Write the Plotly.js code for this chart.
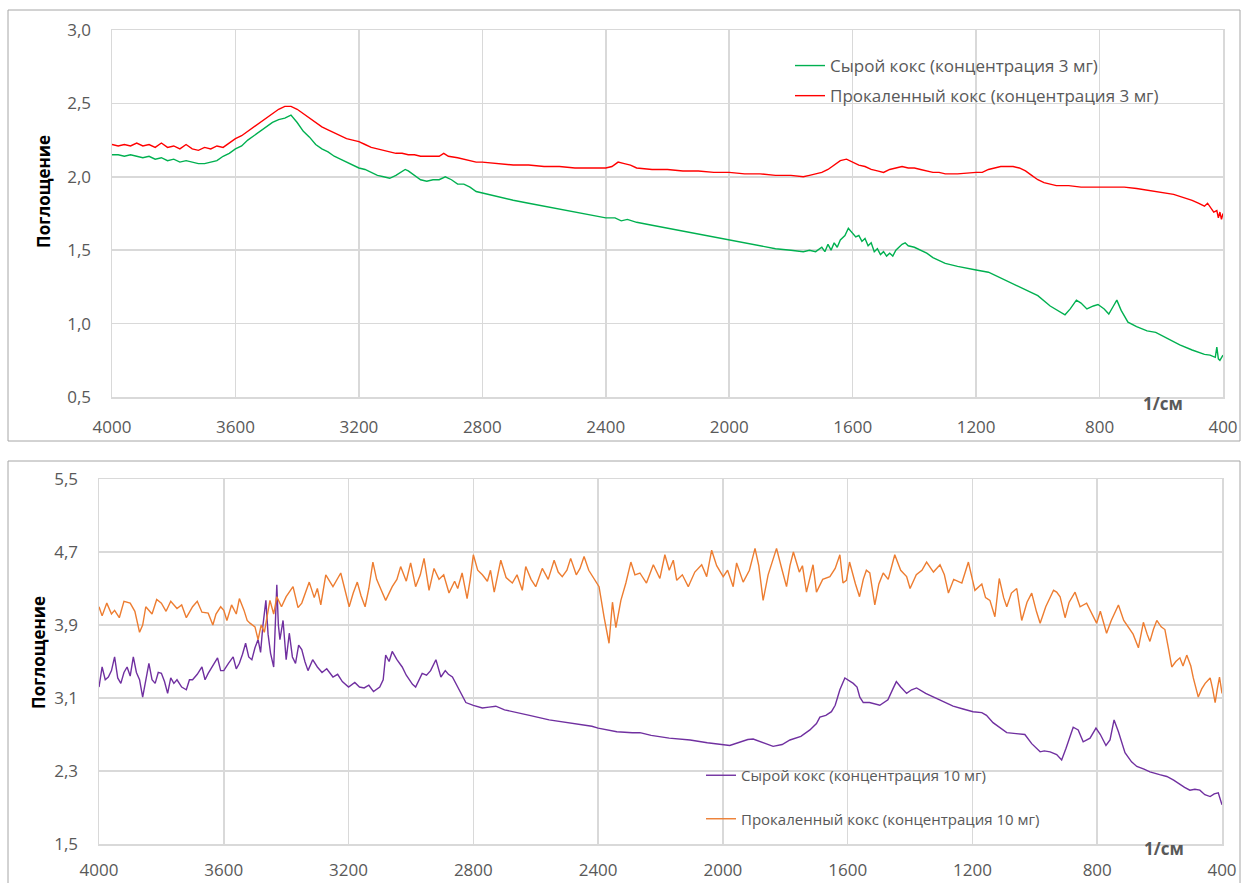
<!DOCTYPE html>
<html>
<head>
<meta charset="utf-8">
<script src="https://cdn.plot.ly/plotly-3.0.1.min.js"></script>
<style>
html,body{margin:0;padding:0;background:#fff;}
#chart{width:1243px;height:883px;}
</style>
</head>
<body>
<div id="chart"></div>
<script>
// ---------- Top chart: 3 mg ----------
const rawName3 = "Сырой кокс (концентрация 3 мг)";
const calcName3 = "Прокаленный кокс (концентрация 3 мг)";

const wnRaw3 = [4000,3980,3960,3940,3920,3900,3880,3860,3840,3820,3800,3780,3760,3740,3720,3700,3680,3660,3640,3620,3600,3580,3560,3540,3520,3500,3480,3460,3440,3420,3400,3380,3360,3340,3320,3300,3280,3260,3240,3220,3200,3180,3160,3140,3120,3100,3080,3060,3050,3040,3020,3000,2980,2960,2940,2920,2900,2880,2860,2840,2820,2800,2750,2700,2650,2600,2550,2500,2450,2400,2370,2350,2330,2300,2250,2200,2150,2100,2050,2000,1950,1900,1850,1800,1760,1740,1720,1700,1690,1680,1670,1660,1650,1640,1625,1614,1600,1590,1580,1570,1560,1550,1540,1530,1520,1510,1500,1490,1480,1470,1460,1450,1440,1430,1420,1400,1380,1360,1340,1320,1300,1260,1220,1200,1160,1120,1080,1040,1000,960,930,912,895,875,860,841,820,805,785,770,755,744,730,708,680,646,618,580,540,500,460,442,425,420,415,410,400];
const absRaw3 = [2.15,2.15,2.14,2.15,2.14,2.13,2.14,2.12,2.13,2.11,2.12,2.10,2.11,2.10,2.09,2.09,2.10,2.11,2.14,2.16,2.19,2.21,2.25,2.28,2.31,2.34,2.37,2.39,2.40,2.42,2.37,2.31,2.27,2.22,2.19,2.17,2.14,2.12,2.10,2.08,2.06,2.05,2.03,2.01,2.00,1.99,2.01,2.04,2.05,2.04,2.01,1.98,1.97,1.98,1.98,2.00,1.98,1.95,1.95,1.93,1.90,1.89,1.86,1.84,1.82,1.80,1.78,1.76,1.74,1.72,1.72,1.70,1.71,1.69,1.67,1.65,1.63,1.61,1.59,1.57,1.55,1.53,1.51,1.50,1.49,1.50,1.49,1.52,1.49,1.54,1.50,1.55,1.52,1.57,1.60,1.65,1.61,1.59,1.60,1.56,1.58,1.53,1.55,1.49,1.51,1.47,1.49,1.46,1.48,1.46,1.50,1.52,1.54,1.55,1.53,1.52,1.50,1.48,1.45,1.43,1.41,1.39,1.37,1.365,1.35,1.31,1.27,1.23,1.19,1.12,1.08,1.06,1.10,1.16,1.14,1.10,1.12,1.13,1.10,1.065,1.12,1.16,1.09,1.01,0.98,0.95,0.94,0.90,0.855,0.82,0.79,0.785,0.77,0.84,0.76,0.75,0.785];

const wnCalc3 = [4000,3980,3960,3940,3920,3900,3880,3860,3840,3820,3800,3780,3760,3740,3720,3700,3680,3660,3640,3620,3600,3580,3560,3540,3520,3500,3480,3460,3440,3420,3400,3380,3360,3340,3320,3300,3280,3260,3240,3220,3200,3180,3160,3140,3120,3100,3080,3060,3040,3020,3000,2980,2960,2940,2925,2910,2880,2860,2840,2820,2800,2750,2700,2650,2600,2550,2500,2450,2400,2380,2360,2340,2320,2300,2250,2200,2150,2100,2050,2000,1950,1900,1850,1800,1760,1740,1720,1700,1680,1660,1640,1620,1600,1580,1560,1540,1520,1500,1480,1460,1440,1420,1400,1380,1360,1340,1320,1300,1260,1220,1200,1180,1160,1140,1120,1100,1080,1060,1040,1020,1000,980,960,940,900,860,800,760,720,680,650,620,590,560,530,500,480,460,450,440,430,420,415,410,405,400];
const absCalc3 = [2.22,2.21,2.22,2.21,2.23,2.21,2.22,2.20,2.23,2.20,2.21,2.19,2.22,2.19,2.18,2.20,2.19,2.21,2.20,2.23,2.26,2.28,2.31,2.34,2.37,2.40,2.43,2.46,2.48,2.48,2.46,2.43,2.40,2.37,2.34,2.32,2.30,2.28,2.26,2.25,2.24,2.22,2.20,2.19,2.18,2.17,2.16,2.16,2.15,2.15,2.14,2.14,2.14,2.14,2.16,2.14,2.13,2.12,2.11,2.10,2.10,2.09,2.08,2.08,2.07,2.07,2.06,2.06,2.06,2.07,2.10,2.09,2.08,2.06,2.05,2.05,2.04,2.04,2.03,2.03,2.02,2.02,2.01,2.01,2.00,2.01,2.02,2.03,2.05,2.08,2.11,2.12,2.10,2.08,2.07,2.05,2.04,2.03,2.05,2.06,2.07,2.06,2.06,2.05,2.04,2.03,2.03,2.02,2.02,2.03,2.03,2.03,2.05,2.06,2.07,2.07,2.07,2.06,2.04,2.01,1.98,1.96,1.95,1.94,1.94,1.93,1.93,1.93,1.93,1.92,1.91,1.90,1.89,1.88,1.86,1.84,1.82,1.80,1.82,1.79,1.76,1.77,1.72,1.76,1.71,1.75];

// ---------- Bottom chart: 10 mg ----------
const rawName10 = "Сырой кокс (концентрация 10 мг)";
const calcName10 = "Прокаленный кокс (концентрация 10 мг)";

const wnRaw10 = [4000,3995,3990,3980,3970,3960,3950,3940,3930,3920,3910,3900,3890,3880,3870,3860,3850,3840,3830,3820,3810,3800,3790,3780,3770,3760,3750,3735,3720,3710,3700,3685,3670,3660,3650,3635,3620,3610,3600,3585,3570,3560,3550,3540,3530,3520,3510,3500,3490,3482,3475,3465,3458,3450,3440,3430,3425,3420,3410,3400,3390,3380,3370,3360,3350,3340,3330,3315,3300,3285,3270,3250,3235,3220,3200,3180,3165,3150,3135,3120,3100,3089,3081,3070,3060,3045,3028,3015,3006,2995,2985,2975,2964,2950,2937,2920,2904,2890,2880,2867,2851,2837,2824,2800,2771,2750,2728,2700,2664,2620,2557,2500,2450,2420,2400,2365,2340,2290,2266,2230,2172,2105,2050,1978,1950,1920,1903,1880,1839,1810,1785,1750,1721,1700,1689,1670,1652,1640,1625,1609,1595,1582,1570,1561,1550,1530,1497,1471,1455,1444,1430,1411,1395,1379,1350,1326,1300,1262,1230,1198,1170,1155,1134,1110,1090,1060,1032,1010,983,970,951,930,914,900,885,877,861,845,823,804,790,772,759,746,732,711,690,673,650,631,600,577,555,535,520,503,487,471,455,438,425,412,405,400];
const absRaw10 = [3.22,3.35,3.44,3.30,3.33,3.40,3.55,3.32,3.26,3.38,3.44,3.34,3.55,3.38,3.30,3.11,3.32,3.48,3.30,3.26,3.38,3.37,3.28,3.15,3.32,3.26,3.30,3.22,3.19,3.30,3.30,3.36,3.44,3.30,3.37,3.45,3.54,3.40,3.40,3.48,3.55,3.42,3.48,3.58,3.70,3.55,3.52,3.65,3.74,3.60,3.88,4.17,3.80,3.59,3.44,4.34,3.90,3.74,3.95,3.52,3.81,3.55,3.48,3.68,3.63,3.50,3.40,3.52,3.44,3.38,3.42,3.33,3.36,3.28,3.22,3.27,3.22,3.21,3.24,3.17,3.22,3.30,3.57,3.50,3.61,3.52,3.44,3.35,3.30,3.25,3.22,3.30,3.37,3.35,3.40,3.52,3.33,3.40,3.36,3.33,3.22,3.14,3.05,3.02,2.99,3.00,3.01,2.97,2.94,2.91,2.86,2.83,2.80,2.79,2.77,2.75,2.73,2.72,2.72,2.69,2.66,2.64,2.61,2.58,2.61,2.645,2.65,2.62,2.57,2.59,2.64,2.68,2.75,2.82,2.89,2.91,2.95,3.02,3.19,3.32,3.29,3.26,3.22,3.11,3.05,3.05,3.02,3.08,3.20,3.28,3.22,3.15,3.19,3.21,3.15,3.11,3.07,3.01,2.98,2.95,2.94,2.91,2.83,2.77,2.72,2.71,2.70,2.60,2.51,2.52,2.51,2.48,2.42,2.55,2.70,2.78,2.75,2.62,2.66,2.77,2.70,2.58,2.64,2.86,2.73,2.50,2.40,2.35,2.32,2.29,2.26,2.24,2.20,2.15,2.12,2.09,2.10,2.09,2.04,2.02,2.05,2.06,1.98,1.93];

const wnCalc10 = [4000,3990,3975,3960,3950,3935,3920,3900,3885,3870,3860,3850,3830,3815,3800,3785,3770,3750,3735,3720,3700,3685,3670,3650,3635,3625,3610,3600,3590,3575,3560,3550,3535,3525,3516,3500,3490,3480,3470,3460,3452,3440,3430,3415,3400,3378,3362,3350,3326,3310,3300,3289,3273,3250,3225,3198,3185,3172,3160,3147,3135,3122,3110,3095,3081,3060,3045,3033,3015,3001,2985,2970,2958,2942,2926,2910,2895,2878,2860,2850,2836,2820,2810,2800,2786,2771,2755,2745,2733,2712,2695,2675,2660,2643,2632,2615,2600,2579,2560,2541,2528,2515,2500,2488,2470,2458,2445,2430,2418,2397,2381,2365,2354,2343,2327,2311,2295,2282,2266,2245,2223,2202,2186,2172,2159,2148,2130,2111,2090,2068,2052,2036,2020,1999,1985,1967,1956,1935,1915,1897,1885,1871,1855,1840,1828,1810,1796,1785,1774,1755,1745,1732,1720,1711,1700,1680,1657,1640,1625,1615,1604,1594,1575,1562,1550,1540,1529,1513,1500,1486,1470,1449,1430,1411,1400,1380,1362,1347,1325,1304,1290,1277,1260,1234,1213,1192,1170,1158,1144,1128,1114,1100,1090,1075,1058,1042,1025,1010,995,983,965,950,940,930,919,903,890,871,855,834,815,802,790,770,755,745,732,715,700,685,668,652,640,631,620,609,595,583,572,561,548,535,525,513,500,492,476,465,454,438,430,422,415,408,400];
const absCalc10 = [4.10,4.00,4.14,4.02,4.06,3.98,4.16,4.14,4.05,3.82,3.90,4.10,4.02,4.18,4.14,4.05,4.16,4.08,4.12,3.98,4.10,4.16,4.04,4.03,3.90,4.02,4.10,4.06,3.95,4.12,4.02,4.19,4.06,3.95,3.92,3.88,3.74,3.90,3.82,4.03,4.17,4.02,4.21,4.10,4.21,4.32,4.09,4.14,4.37,4.20,4.30,4.12,4.45,4.32,4.47,4.10,4.25,4.37,4.22,4.10,4.30,4.59,4.40,4.28,4.17,4.32,4.40,4.54,4.38,4.58,4.32,4.45,4.63,4.28,4.52,4.40,4.45,4.25,4.38,4.30,4.47,4.19,4.40,4.67,4.50,4.45,4.38,4.50,4.26,4.61,4.42,4.36,4.45,4.28,4.54,4.40,4.32,4.52,4.40,4.61,4.48,4.43,4.50,4.63,4.45,4.52,4.65,4.50,4.43,4.32,3.99,3.70,4.15,3.87,4.17,4.36,4.59,4.45,4.47,4.36,4.56,4.41,4.67,4.50,4.61,4.39,4.45,4.32,4.48,4.56,4.43,4.72,4.55,4.43,4.50,4.32,4.58,4.37,4.50,4.74,4.55,4.17,4.45,4.60,4.74,4.50,4.32,4.55,4.70,4.48,4.55,4.26,4.45,4.56,4.26,4.40,4.43,4.52,4.67,4.36,4.39,4.59,4.35,4.21,4.40,4.50,4.47,4.12,4.35,4.47,4.40,4.67,4.50,4.43,4.30,4.45,4.50,4.59,4.48,4.56,4.45,4.25,4.40,4.36,4.59,4.28,4.35,4.20,4.17,3.99,4.41,4.20,4.10,4.25,4.30,3.95,4.15,4.25,4.05,3.92,4.10,4.20,4.28,4.26,4.21,3.98,4.15,4.26,4.10,4.14,4.00,3.92,4.05,3.81,3.95,4.02,4.12,3.95,3.88,3.80,3.65,3.93,3.80,3.72,3.85,3.95,3.88,3.85,3.65,3.44,3.50,3.54,3.45,3.57,3.45,3.32,3.11,3.20,3.26,3.32,3.20,3.05,3.20,3.33,3.15];

const xTicks = [4000,3600,3200,2800,2400,2000,1600,1200,800,400];
const yTicksTop = [0.5,1.0,1.5,2.0,2.5,3.0];
const yTicksBottom = [1.5,2.3,3.1,3.9,4.7,5.5];
const yTitle = "Поглощение";
const xUnit = "1/см";

// ---------- layout helpers ----------
const W = 1243, H = 883;
const px = v => v / W;
const py = v => (H - v) / H;
const tickFont = {family: "Open Sans, sans-serif", size: 17, color: "#595959"};
const grid = "#D9D9D9";

function xAxis(dom, anchor, standoff){
  return {domain: dom, anchor: anchor, range: [4000, 400], autorange: false,
    tickvals: xTicks, ticktext: xTicks.map(String), showgrid: true, gridcolor: grid, gridwidth: 1.5,
    zeroline: false, showline: true, linecolor: grid, linewidth: 1.5, mirror: true,
    ticks: "", ticklabelstandoff: standoff, tickfont: tickFont, automargin: false, fixedrange: true};
}
function yAxis(dom, anchor, rng, vals){
  return {domain: dom, anchor: anchor, range: rng, autorange: false,
    tickvals: vals, ticktext: vals.map(v => v.toFixed(1).replace(".", ",")),
    showgrid: true, gridcolor: grid, gridwidth: 1.5, zeroline: false,
    showline: true, linecolor: grid, linewidth: 1.5, mirror: true,
    ticks: "", ticklabelstandoff: 16, tickfont: tickFont, automargin: false, fixedrange: true};
}

const traces = [
  {x: wnRaw3, y: absRaw3, name: rawName3, type: "scatter", mode: "lines",
   line: {color: "#00B050", width: 1.4}, xaxis: "x", yaxis: "y", legend: "legend", legendgroup: "a"},
  {x: wnCalc3, y: absCalc3, name: calcName3, type: "scatter", mode: "lines",
   line: {color: "#FF0000", width: 1.4}, xaxis: "x", yaxis: "y", legend: "legend", legendgroup: "b"},
  {x: wnRaw10, y: absRaw10, name: rawName10, type: "scatter", mode: "lines",
   line: {color: "#7030A0", width: 1.4}, xaxis: "x2", yaxis: "y2", legend: "legend2", legendgroup: "c"},
  {x: wnCalc10, y: absCalc10, name: calcName10, type: "scatter", mode: "lines",
   line: {color: "#ED7D31", width: 1.4}, xaxis: "x2", yaxis: "y2", legend: "legend2", legendgroup: "d"}
];

const layout = {
  width: W, height: H,
  margin: {l: 0, r: 0, t: 0, b: 0},
  paper_bgcolor: "#ffffff", plot_bgcolor: "#ffffff",
  showlegend: true,
  xaxis: xAxis([px(112), px(1223)], "y", 14),
  yaxis: yAxis([py(397), py(30)], "x", [0.5, 3.0], yTicksTop),
  xaxis2: xAxis([px(99), px(1222)], "y2", 10),
  yaxis2: yAxis([py(844), py(479)], "x2", [1.5, 5.5], yTicksBottom),
  legend: {x: px(790), y: py(48), xanchor: "left", yanchor: "top", bgcolor: "rgba(0,0,0,0)",
    font: {family: "Open Sans, sans-serif", size: 17, color: "#595959"},
    traceorder: "grouped", tracegroupgap: 5, itemwidth: 30},
  legend2: {x: px(701), y: py(759), xanchor: "left", yanchor: "top", bgcolor: "rgba(0,0,0,0)",
    font: {family: "Open Sans, sans-serif", size: 15, color: "#595959"},
    traceorder: "grouped", tracegroupgap: 21, itemwidth: 30},
  shapes: [
    {type: "rect", xref: "paper", yref: "paper", x0: px(8), x1: px(1240), y0: py(441), y1: py(10),
     line: {color: "#A6A6A6", width: 1}, fillcolor: "rgba(0,0,0,0)", layer: "below"},
    {type: "rect", xref: "paper", yref: "paper", x0: px(8), x1: px(1240), y0: py(895), y1: py(461),
     line: {color: "#A6A6A6", width: 1}, fillcolor: "rgba(0,0,0,0)", layer: "below"}
  ],
  annotations: [
    {text: "<b>" + yTitle + "</b>", xref: "paper", yref: "paper", x: px(43), y: py(192), textangle: -90,
     showarrow: false, font: {family: "Open Sans, sans-serif", size: 17, color: "#000000"}, xanchor: "center", yanchor: "middle"},
    {text: "<b>" + yTitle + "</b>", xref: "paper", yref: "paper", x: px(38), y: py(653), textangle: -90,
     showarrow: false, font: {family: "Open Sans, sans-serif", size: 17, color: "#000000"}, xanchor: "center", yanchor: "middle"},
    {text: "<b>" + xUnit + "</b>", xref: "paper", yref: "paper", x: px(1163), y: py(403),
     showarrow: false, font: {family: "Open Sans, sans-serif", size: 17, color: "#595959"}, xanchor: "center", yanchor: "middle"},
    {text: "<b>" + xUnit + "</b>", xref: "paper", yref: "paper", x: px(1164), y: py(848),
     showarrow: false, font: {family: "Open Sans, sans-serif", size: 17, color: "#595959"}, xanchor: "center", yanchor: "middle"}
  ]
};

Plotly.newPlot("chart", traces, layout, {staticPlot: true, displayModeBar: false});
</script>
</body>
</html>
